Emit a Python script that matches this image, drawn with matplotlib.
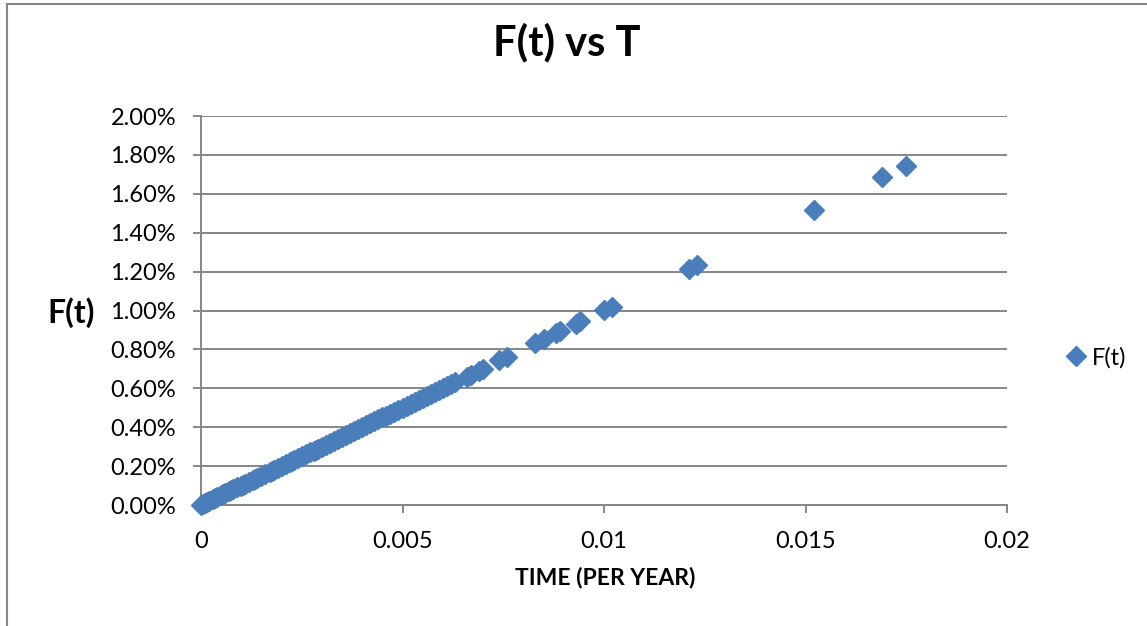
import matplotlib
matplotlib.use("Agg")
import matplotlib.pyplot as plt
from matplotlib.patches import Rectangle
from matplotlib.ticker import PercentFormatter, FuncFormatter, MultipleLocator

plt.rcParams['font.family'] = ['Lato', 'DejaVu Sans']

# time (per year) and F(t) in percent
t = [0.0000, 0.00005, 0.0001, 0.00015, 0.0002, 0.0003, 0.00035, 0.0004, 0.0005, 0.00055,
     0.0006, 0.0007, 0.00075, 0.0008, 0.0009, 0.0010, 0.00105, 0.0011, 0.0012, 0.0013,
     0.00135, 0.0014, 0.0015, 0.0016, 0.0017, 0.00175, 0.0018, 0.0019, 0.0020, 0.0021,
     0.0022, 0.00225, 0.0023, 0.0024, 0.0025, 0.0026, 0.0027, 0.0028, 0.00285, 0.0029,
     0.0030, 0.0031, 0.0032, 0.0033, 0.0034, 0.0035, 0.0036, 0.0037, 0.0038, 0.0039,
     0.0040, 0.0041, 0.0042, 0.0043, 0.0044, 0.0045, 0.0046, 0.0047, 0.0048, 0.0049,
     0.0050, 0.0051, 0.0052, 0.0053, 0.0054, 0.0055, 0.0056, 0.0057, 0.0058, 0.0059,
     0.0060, 0.0061, 0.0062, 0.0063, 0.0066, 0.0067, 0.0069, 0.0070,
     0.0074, 0.0076, 0.0083, 0.0085, 0.0088, 0.0089, 0.0093, 0.0094, 0.0100, 0.0102,
     0.0121, 0.0123, 0.0152, 0.0169, 0.0175]
f_pct = [0.000, 0.005, 0.010, 0.015, 0.020, 0.030, 0.035, 0.040, 0.050, 0.055,
         0.060, 0.070, 0.075, 0.080, 0.090, 0.100, 0.105, 0.110, 0.120, 0.130,
         0.135, 0.140, 0.150, 0.160, 0.170, 0.175, 0.180, 0.190, 0.200, 0.210,
         0.220, 0.225, 0.230, 0.240, 0.250, 0.260, 0.270, 0.280, 0.285, 0.290,
         0.300, 0.310, 0.320, 0.330, 0.340, 0.350, 0.360, 0.370, 0.380, 0.390,
         0.400, 0.410, 0.420, 0.430, 0.440, 0.450, 0.460, 0.470, 0.480, 0.490,
         0.500, 0.510, 0.520, 0.530, 0.540, 0.550, 0.560, 0.570, 0.580, 0.590,
         0.600, 0.610, 0.620, 0.630, 0.660, 0.670, 0.690, 0.700,
         0.745, 0.760, 0.833, 0.855, 0.884, 0.895, 0.931, 0.946, 1.003, 1.020,
         1.212, 1.232, 1.516, 1.688, 1.744]
f = [v / 100 for v in f_pct]

blue = '#4a7ebb'
grey = '#868686'

fig = plt.figure(figsize=(11.47, 6.26), dpi=100)
fig.patches.append(Rectangle((7 / 1147, -0.5), 2, 1.5 - 4 / 626, transform=fig.transFigure,
                             fill=False, edgecolor=grey, lw=1.5))

ax = fig.add_axes([201 / 1147, 1 - 505 / 626, 806 / 1147, 389 / 626])
ax.plot(t, f, linestyle='none', marker='D', markersize=10, color=blue, clip_on=False,
        zorder=3, label='F(t)')

ax.set_xlim(0, 0.02)
ax.set_ylim(0, 0.02)
ax.xaxis.set_major_locator(MultipleLocator(0.005))
ax.yaxis.set_major_locator(MultipleLocator(0.002))
ax.xaxis.set_major_formatter(FuncFormatter(lambda v, p: f'{v:g}'))
ax.yaxis.set_major_formatter(PercentFormatter(1.0, decimals=2))

ax.grid(axis='y', color=grey, lw=1.4)
ax.set_axisbelow(True)
for side in ('top', 'right'):
    ax.spines[side].set_visible(False)
for side in ('left', 'bottom'):
    ax.spines[side].set_color(grey)
    ax.spines[side].set_linewidth(1.4)
ax.tick_params(axis='both', color=grey, width=1.4, length=6, labelsize=17)
ax.tick_params(axis='y', pad=12)
ax.tick_params(axis='x', pad=13)

fig.text(567 / 1147, 1 - 42 / 626, 'F(t) vs T', ha='center', va='center',
         fontsize=30, fontweight='bold')
fig.text(71 / 1147, 1 - 313 / 626, 'F(t)', ha='center', va='center',
         fontsize=23, fontweight='bold')
fig.text(605 / 1147, 1 - 578 / 626, 'TIME (PER YEAR)', ha='center', va='center',
         fontsize=16.5, fontweight='bold')

fig.legend(loc='center left', bbox_to_anchor=(1068 / 1147, 1 - 358 / 626), frameon=False,
           numpoints=1, handlelength=0.7, handletextpad=0.3, borderaxespad=0,
           borderpad=0, fontsize=17)

fig.savefig('out.png', dpi=100)
